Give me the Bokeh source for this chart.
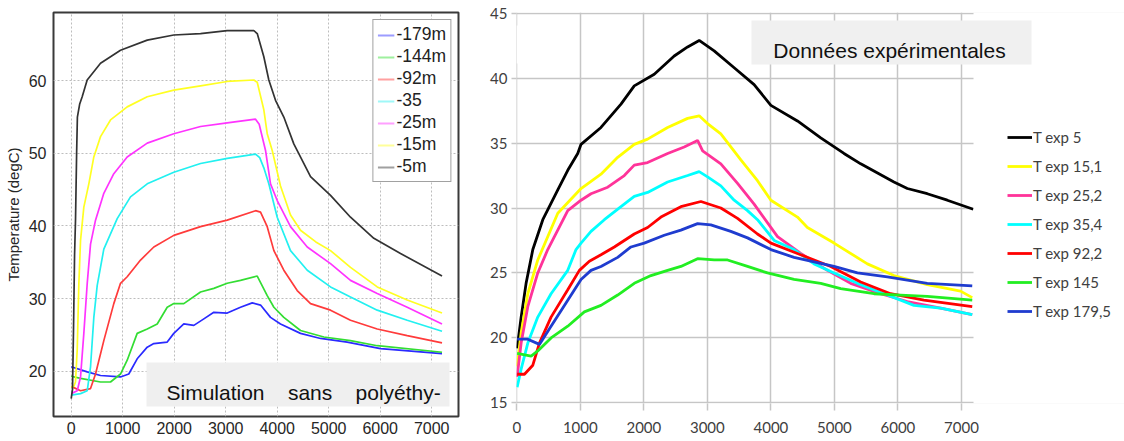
from bokeh.plotting import figure
from bokeh.layouts import row
from bokeh.models import FixedTicker, Legend, LegendItem, Label, BoxAnnotation, Range1d
from bokeh.embed import file_html
from bokeh.resources import INLINE

# ---------------- data: simulation (left panel) ----------------
sim_xticks = [0, 1000, 2000, 3000, 4000, 5000, 6000, 7000]
sim_yticks = [20, 30, 40, 50, 60]

sim_179_t = [0, 311, 569, 957, 1118, 1281, 1476, 1604, 1864, 1992, 2186, 2381, 2575, 2769, 3029, 3287, 3515, 3676, 3870, 4064, 4452, 4841, 5359, 6006, 7200]
sim_179_T = [20.6, 19.9, 19.4, 19.2, 19.6, 21.7, 23.3, 23.8, 24.0, 25.2, 26.5, 26.3, 27.2, 28.1, 28.0, 28.8, 29.4, 29.1, 27.4, 26.5, 25.2, 24.5, 24.0, 23.1, 22.4]

sim_144_t = [0, 181, 569, 763, 957, 1087, 1281, 1476, 1670, 1864, 1992, 2186, 2511, 2769, 3029, 3287, 3612, 3806, 3935, 4128, 4452, 4905, 5423, 5942, 7200]
sim_144_T = [19.3, 19.0, 18.5, 18.5, 19.6, 21.5, 25.2, 25.8, 26.5, 28.8, 29.3, 29.3, 30.9, 31.4, 32.1, 32.5, 33.1, 30.4, 28.8, 27.4, 25.6, 24.7, 24.2, 23.5, 22.6]

sim_92_t = [0, 181, 375, 472, 633, 827, 957, 1087, 1346, 1604, 1992, 2511, 3029, 3579, 3676, 3806, 3935, 4128, 4388, 4647, 5035, 5423, 5942, 6524, 7200]
sim_92_T = [17.9, 17.3, 17.6, 19.6, 24.2, 29.3, 32.1, 33.0, 35.3, 37.1, 38.7, 39.9, 40.8, 42.1, 41.9, 39.9, 36.6, 33.9, 31.1, 29.3, 28.4, 27.0, 25.8, 24.9, 23.9]

sim_35_t = [0, 181, 311, 375, 439, 505, 633, 893, 1151, 1476, 1992, 2511, 3029, 3579, 3660, 3740, 3837, 4000, 4258, 4583, 5035, 5423, 5942, 6524, 7200]
sim_35_T = [16.7, 16.9, 17.3, 20.6, 27.4, 31.8, 36.8, 41.0, 44.0, 45.8, 47.4, 48.6, 49.3, 49.9, 49.4, 48.0, 45.8, 41.2, 36.6, 33.9, 31.6, 30.2, 28.4, 27.0, 25.5]

sim_25_t = [0, 117, 181, 245, 311, 375, 472, 633, 827, 1087, 1476, 1992, 2511, 3029, 3579, 3650, 3773, 3870, 4000, 4258, 4583, 5035, 5423, 5942, 6524, 7200]
sim_25_T = [16.9, 17.3, 19.2, 25.2, 32.1, 37.5, 40.8, 44.5, 47.2, 49.5, 51.4, 52.7, 53.7, 54.2, 54.7, 54.0, 50.4, 45.8, 43.5, 39.9, 37.1, 34.8, 32.5, 30.7, 28.8, 26.5]

sim_15_t = [0, 50, 83, 117, 148, 181, 245, 342, 439, 569, 763, 1087, 1476, 1992, 2511, 3029, 3546, 3612, 3740, 3806, 3903, 4064, 4258, 4452, 4750, 5035, 5423, 5942, 6524, 7200]
sim_15_T = [17.8, 17.9, 18.5, 23.0, 32.0, 38.0, 42.6, 45.8, 49.5, 52.3, 54.6, 56.4, 57.8, 58.7, 59.3, 59.9, 60.1, 59.8, 56.0, 52.7, 50.4, 45.5, 41.5, 39.4, 37.8, 36.6, 34.3, 31.6, 29.8, 28.0]

sim_5_t = [0, 25, 45, 65, 84, 105, 120, 165, 213, 310, 569, 957, 1476, 1992, 2511, 3029, 3546, 3612, 3740, 3837, 3967, 4128, 4322, 4647, 5035, 5423, 5876, 6394, 7200]
sim_5_T = [16.2, 17.5, 26.0, 36.0, 41.0, 50.0, 55.0, 56.8, 57.8, 60.1, 62.4, 64.2, 65.6, 66.3, 66.5, 66.9, 66.9, 66.5, 63.3, 60.1, 57.3, 55.0, 51.3, 46.8, 44.2, 41.2, 38.3, 36.2, 33.1]

sim_labels = ["-179m", "-144m", "-92m", "-35", "-25m", "-15m", "-5m"]
sim_colors = ["#2a2aff", "#33dd33", "#ff3b3b", "#22f0f0", "#ff33ff", "#ffff22", "#333333"]
sim_legend_colors = ["#9c9cff", "#9ef09e", "#ffa0a0", "#9ff8f8", "#ffa0ff", "#ffff9a", "#a0a0a0"]

# ---------------- data: experiments (right panel) ----------------
exp_xticks = [0, 1000, 2000, 3000, 4000, 5000, 6000, 7000]
exp_yticks = [15, 20, 25, 30, 35, 40, 45]

exp_5_t = [5, 68, 146, 252, 409, 645, 802, 959, 1011, 1325, 1640, 1849, 2164, 2478, 2689, 2871, 3107, 3422, 3736, 4000, 4418, 4785, 5151, 5414, 5937, 6148, 6462, 6777, 7186]
exp_5_T = [19.2, 21.6, 24.2, 26.8, 29.1, 31.4, 32.9, 34.2, 34.9, 36.2, 38.0, 39.4, 40.3, 41.7, 42.4, 42.9, 42.1, 40.8, 39.5, 37.9, 36.7, 35.4, 34.2, 33.4, 32.0, 31.5, 31.1, 30.6, 29.9]

exp_15_t = [5, 68, 173, 330, 645, 1011, 1325, 1588, 1849, 2059, 2374, 2689, 2871, 3003, 3212, 3527, 3789, 4000, 4418, 4575, 4994, 5519, 5937, 6462, 6986, 7170]
exp_15_T = [17.8, 20.4, 23.4, 26.0, 29.6, 31.5, 32.6, 33.9, 34.9, 35.3, 36.2, 36.9, 37.1, 36.5, 35.7, 33.7, 32.1, 30.6, 29.3, 28.5, 27.3, 25.7, 24.8, 24.1, 23.6, 23.1]

exp_25_t = [5, 68, 173, 330, 487, 802, 1011, 1168, 1431, 1692, 1849, 2059, 2374, 2635, 2846, 2925, 3212, 3475, 3736, 4104, 4470, 4890, 5256, 5728, 6148, 6672, 7170]
exp_25_T = [17.0, 19.6, 22.4, 25.0, 26.8, 29.8, 30.6, 31.1, 31.6, 32.5, 33.3, 33.5, 34.2, 34.7, 35.2, 34.4, 33.4, 31.9, 30.3, 27.8, 26.5, 25.2, 24.2, 23.4, 22.8, 22.3, 21.8]

exp_35_t = [5, 68, 173, 330, 539, 802, 932, 1011, 1168, 1378, 1640, 1849, 2059, 2374, 2689, 2871, 3003, 3212, 3422, 3632, 3789, 4051, 4365, 4680, 4994, 5362, 5833, 6252, 6672, 7170]
exp_35_T = [16.2, 17.6, 19.6, 21.6, 23.4, 25.2, 26.8, 27.3, 28.2, 29.1, 30.1, 30.9, 31.2, 32.0, 32.5, 32.8, 32.4, 31.7, 30.6, 29.8, 29.1, 27.5, 26.8, 25.7, 25.0, 24.2, 23.3, 22.5, 22.3, 21.8]

exp_92_t = [5, 120, 252, 356, 539, 802, 985, 1142, 1325, 1535, 1849, 2059, 2269, 2583, 2898, 3212, 3475, 3789, 4000, 4418, 4942, 5414, 5885, 6409, 7170]
exp_92_T = [17.2, 17.2, 17.9, 19.6, 21.6, 23.7, 25.2, 25.9, 26.4, 27.0, 28.0, 28.5, 29.3, 30.1, 30.5, 30.0, 29.2, 28.0, 27.3, 26.5, 25.5, 24.3, 23.4, 22.9, 22.4]

exp_145_t = [5, 225, 330, 539, 802, 1063, 1325, 1588, 1849, 2112, 2374, 2583, 2846, 3107, 3318, 3632, 3946, 4365, 4785, 5099, 5623, 6042, 6462, 7170]
exp_145_T = [18.8, 18.6, 19.0, 20.0, 20.9, 22.0, 22.5, 23.3, 24.2, 24.8, 25.2, 25.5, 26.1, 26.0, 26.0, 25.5, 25.0, 24.5, 24.2, 23.8, 23.4, 23.3, 23.2, 22.9]

exp_179_t = [5, 173, 356, 539, 802, 1011, 1168, 1325, 1588, 1797, 2006, 2321, 2583, 2846, 3055, 3369, 3632, 4000, 4365, 4994, 5362, 5833, 6462, 7170]
exp_179_T = [19.9, 19.9, 19.5, 20.9, 22.9, 24.5, 25.2, 25.5, 26.2, 27.0, 27.3, 27.9, 28.3, 28.8, 28.7, 28.2, 27.7, 26.8, 26.2, 25.5, 25.0, 24.7, 24.2, 24.0]

exp_labels = ["T exp 5", "T exp 15,1", "T exp 25,2", "T exp 35,4", "T exp 92,2", "T exp 145", "T exp 179,5"]
exp_colors = ["#000000", "#ffff00", "#ff3399", "#00ffff", "#ff0000", "#22ee22", "#1f3ccf"]

# ---------------- left figure ----------------
ARIAL = "Liberation Sans"
p1 = figure(frame_width=405, frame_height=404, x_range=Range1d(-344, 7520), y_range=Range1d(13.75, 69.4),
            output_backend="svg", toolbar_location=None,
            min_border_left=53, min_border_right=22, min_border_top=12, min_border_bottom=25)
p1.background_fill_color = "white"
p1.border_fill_color = "white"
p1.outline_line_color = "#3a3a3a"
p1.outline_line_width = 2
for ax in (p1.xaxis[0], p1.yaxis[0]):
    ax.axis_line_color = None
    ax.major_tick_in = 0
    ax.major_tick_out = 0
    ax.minor_tick_line_color = None
    ax.major_label_text_font = ARIAL
    ax.major_label_text_font_size = "16px"
    ax.major_label_text_color = "#262626"
p1.xaxis.major_label_standoff = 5
p1.yaxis.major_label_standoff = 7
p1.xaxis.ticker = FixedTicker(ticks=sim_xticks)
p1.yaxis.ticker = FixedTicker(ticks=sim_yticks)
p1.yaxis.axis_label = "Temperature (degC)"
p1.yaxis.axis_label_text_font = ARIAL
p1.yaxis.axis_label_text_font_size = "15px"
p1.yaxis.axis_label_text_font_style = "normal"
p1.yaxis.axis_label_text_color = "#262626"
p1.yaxis.axis_label_standoff = 4
p1.grid.grid_line_color = "#bdbdbd"
p1.grid.grid_line_dash = "2 2"
p1.grid.grid_line_width = 1

sim_series = [(sim_179_t, sim_179_T), (sim_144_t, sim_144_T), (sim_92_t, sim_92_T), (sim_35_t, sim_35_T),
              (sim_25_t, sim_25_T), (sim_15_t, sim_15_T), (sim_5_t, sim_5_T)]
sim_items = []
NAN = float("nan")
for (t, T), lab, col, lcol in zip(sim_series, sim_labels, sim_colors, sim_legend_colors):
    p1.line(t, T, line_color=col, line_width=1.7)
    proxy = p1.line([NAN, NAN], [NAN, NAN], line_color=lcol, line_width=2)
    sim_items.append(LegendItem(label=lab, renderers=[proxy]))

leg1 = Legend(items=sim_items, location="top_right", glyph_width=17, glyph_height=20, label_height=20,
              spacing=1, padding=4, margin=7, label_standoff=2,
              border_line_color="#444444", border_line_width=1.3, background_fill_color="white",
              background_fill_alpha=1.0,
              label_text_font=ARIAL, label_text_font_size="17.5px", label_text_color="#222222")
p1.add_layout(leg1)

p1.add_layout(BoxAnnotation(left=93, right=396, bottom=10, top=54,
                            left_units="screen", right_units="screen", bottom_units="screen", top_units="screen",
                            fill_color="#efefef", fill_alpha=1.0, line_color=None, level="annotation"))
p1.add_layout(Label(x=113, y=24.3, x_units="screen", y_units="screen",
                    text="Simulation\u00a0\u00a0\u00a0\u00a0sans\u00a0\u00a0\u00a0\u00a0polyéthy-",
                    text_font=ARIAL, text_font_size="21px", text_color="#111111",
                    text_align="left", text_baseline="alphabetic"))

# ---------------- right figure ----------------
CAL = "Lato"
X_END_DATA = 7190
p2 = figure(width=644, height=441, x_range=Range1d(-5, 9567), y_range=Range1d(14.95, 45.05),
            output_backend="svg", toolbar_location=None,
            min_border_left=36, min_border_right=0, min_border_top=12, min_border_bottom=38)
p2.outline_line_color = None
p2.background_fill_color = "white"
p2.border_fill_color = "white"
for ax in (p2.xaxis[0], p2.yaxis[0]):
    ax.axis_line_color = None
    ax.major_tick_in = 0
    ax.major_tick_line_color = "#c6c6c6"
    ax.major_tick_line_width = 1.5
    ax.minor_tick_line_color = None
    ax.major_label_text_font = CAL
    ax.major_label_text_font_size = "15px"
    ax.major_label_text_color = "#404040"
p2.xaxis.major_tick_out = 7
p2.xaxis.major_label_standoff = 11
p2.yaxis.major_tick_out = 5
p2.yaxis.major_label_standoff = 4
p2.xaxis.ticker = FixedTicker(ticks=exp_xticks)
p2.yaxis.ticker = FixedTicker(ticks=exp_yticks)
p2.grid.grid_line_color = "#c6c6c6"
p2.grid.grid_line_width = 1.5

exp_series = [(exp_5_t, exp_5_T), (exp_15_t, exp_15_T), (exp_25_t, exp_25_T), (exp_35_t, exp_35_T),
              (exp_92_t, exp_92_T), (exp_145_t, exp_145_T), (exp_179_t, exp_179_T)]
exp_items = []
for (t, T), lab, col in zip(exp_series, exp_labels, exp_colors):
    r = p2.line(t, T, line_color=col, line_width=2.8)
    exp_items.append(LegendItem(label=lab, renderers=[r]))

# white cover for plot area beyond the data end (chart area ends there)
p2.add_layout(BoxAnnotation(left=X_END_DATA, fill_color="white", fill_alpha=1.0, line_color=None,
                            level="annotation"))
p2.add_layout(BoxAnnotation(left=0, right=62, bottom=340, top=378,
                            left_units="screen", right_units="screen", bottom_units="screen", top_units="screen",
                            fill_color="white", fill_alpha=1.0, line_color=None, level="annotation"))

leg2 = Legend(items=exp_items, location=(491, 82), glyph_width=25, glyph_height=20, label_height=20,
              spacing=9, padding=0, margin=0, label_standoff=1,
              border_line_color=None, background_fill_alpha=0.0,
              label_text_font=CAL, label_text_font_size="15px", label_text_color="#404040")
p2.add_layout(leg2)

p2.add_layout(BoxAnnotation(left=235, right=515, bottom=339, top=383,
                            left_units="screen", right_units="screen", bottom_units="screen", top_units="screen",
                            fill_color="#f0f0f0", fill_alpha=1.0, line_color=None, level="annotation"))
p2.add_layout(Label(x=373, y=353, x_units="screen", y_units="screen",
                    text="Données expérimentales", text_font=ARIAL, text_font_size="21px",
                    text_color="#111111", text_align="center", text_baseline="alphabetic"))

layout = row(p1, p2, spacing=0)
open("out.html", "w").write(file_html(layout, INLINE))
